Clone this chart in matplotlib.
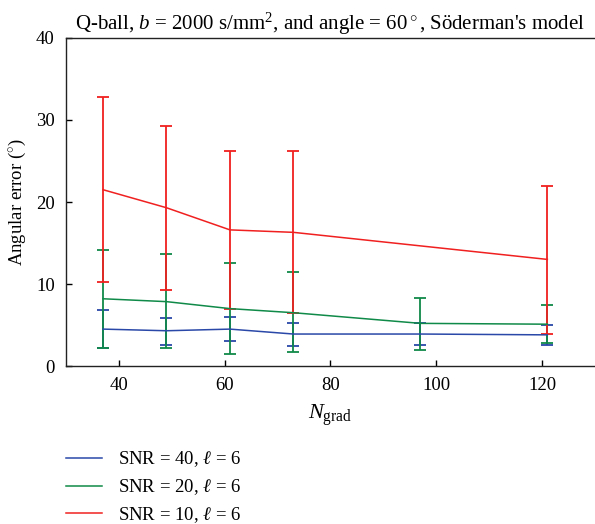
import matplotlib
matplotlib.use("Agg")
import matplotlib.pyplot as plt
import numpy as np
from matplotlib.lines import Line2D

plt.rcParams['font.family'] = ['Liberation Serif', 'DejaVu Serif']
plt.rcParams['mathtext.fontset'] = 'custom'
plt.rcParams['mathtext.rm'] = 'Liberation Serif'
plt.rcParams['mathtext.it'] = 'Liberation Serif:italic'

ngrad = [37, 49, 61, 73, 97, 121]
ngrad_red = [37, 49, 61, 73, 121]

snr40_mean = [4.5, 4.3, 4.5, 3.9, 3.9, 3.8]
snr40_low = [2.2, 2.6, 3.1, 2.4, 2.6, 2.6]
snr40_high = [6.8, 5.9, 6.0, 5.3, 5.3, 5.0]

snr20_mean = [8.2, 7.85, 7.0, 6.5, 5.2, 5.1]
snr20_low = [2.2, 2.15, 1.5, 1.7, 2.0, 2.8]
snr20_high = [14.1, 13.6, 12.6, 11.5, 8.3, 7.4]

snr10_mean = [21.5, 19.3, 16.6, 16.3, 13.0]
snr10_low = [10.2, 9.3, 7.0, 6.5, 3.9]
snr10_high = [32.8, 29.3, 26.2, 26.2, 22.0]

labels = [r'SNR = 40, $\ell$ = 6', r'SNR = 20, $\ell$ = 6', r'SNR = 10, $\ell$ = 6']
colors = ['#2a48a8', '#108a48', '#f02020']

fig = plt.figure(figsize=(5.95, 5.24), dpi=100)
ax = fig.add_axes([0.1109, 0.3015, 0.889, 0.626])

series = [
    (ngrad, snr40_mean, snr40_low, snr40_high),
    (ngrad, snr20_mean, snr20_low, snr20_high),
    (ngrad_red, snr10_mean, snr10_low, snr10_high),
]
for (x, m, lo, hi), c, lab in zip(series, colors, labels):
    m = np.array(m); lo = np.array(lo); hi = np.array(hi)
    yerr = np.vstack([m - lo, hi - m])
    ax.errorbar(x, m, yerr=yerr, color=c, lw=1.1, elinewidth=1.3,
                capsize=4.5, capthick=1.3, label=lab)

ax.set_xlim(30, 130)
ax.set_ylim(0, 40)
ax.set_xticks([40, 60, 80, 100, 120])
ax.set_yticks([0, 10, 20, 30, 40])
ax.tick_params(direction='in', length=4, labelsize=13.5, width=1, pad=8,
               top=False, right=False)
for s in ['left', 'bottom', 'top']:
    ax.spines[s].set_linewidth(1.0)
    ax.spines[s].set_color('#222222')
ax.spines['right'].set_visible(False)

ax.set_xlabel(r'$N_{\mathrm{grad}}$', fontsize=16, labelpad=6)
ax.set_ylabel('Angular error ($^{\\circ}$)', fontsize=13.5, labelpad=6)
ax.set_title(r"Q-ball, $b$ = 2000 s/mm$^2$, and angle = 60$^\circ$, Söderman's model",
             fontsize=15, pad=6)

leg_handles = [Line2D([0], [0], color=c, lw=1.1) for c in colors]
fig.legend(leg_handles, labels, loc='upper left', bbox_to_anchor=(0.111, 0.142),
           frameon=False, fontsize=13.5, handlelength=1.9, labelspacing=0.42,
           handletextpad=0.85, borderpad=0, borderaxespad=0)

fig.savefig('out.png', dpi=100)
